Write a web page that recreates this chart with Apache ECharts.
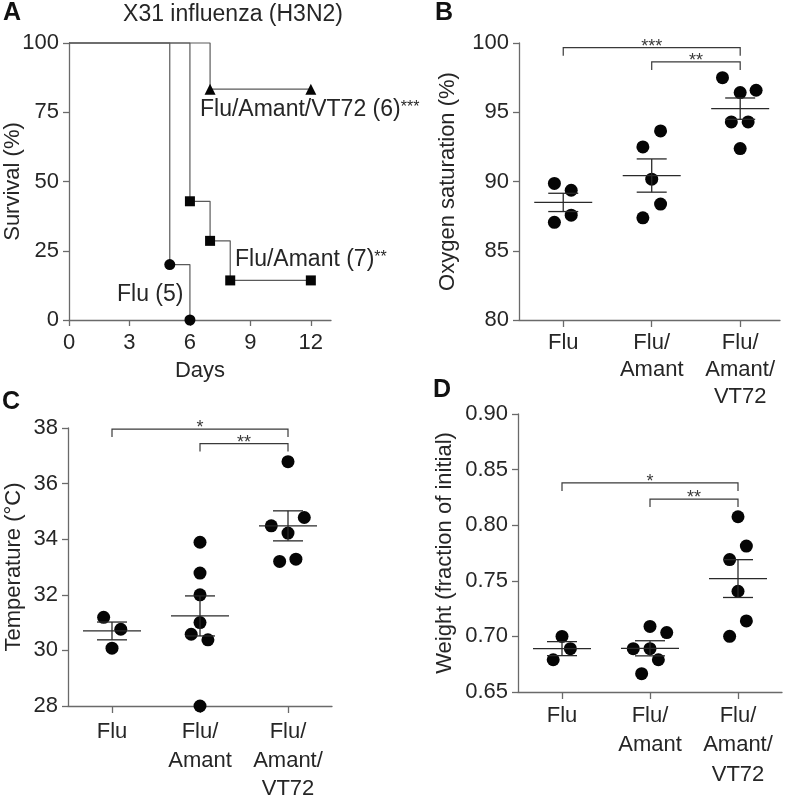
<!DOCTYPE html>
<html><head><meta charset="utf-8">
<script src="https://cdn.jsdelivr.net/npm/echarts@6/dist/echarts.min.js"></script>
<style>html,body{margin:0;padding:0;background:#fff}#c{width:787px;height:796px}</style>
</head><body><div id="c"></div>
<script>
// ---------- Panel A: survival ----------
const survFluDays = [0, 5, 6];
const survFluPct = [100, 20, 0];
const survAmantDays = [0, 6, 7, 8, 12];
const survAmantPct = [100, 42.86, 28.57, 14.29, 14.29];
const survVT72Days = [0, 7, 12];
const survVT72Pct = [100, 83.33, 83.33];
const dayTicks = [0, 3, 6, 9, 12];

// ---------- shared groups ----------
const groupPos = [1, 2, 3];
const groupNames = ['Flu', 'Flu/\nAmant', 'Flu/\nAmant/\nVT72'];

// ---------- Panel B: oxygen saturation ----------
const o2FluX = [0.9, 1.09, 1.09, 0.9];
const o2FluY = [89.86, 89.37, 87.57, 87.05];
const o2AmantX = [1.9, 2.1, 2.0, 2.1, 1.9];
const o2AmantY = [92.5, 93.65, 90.17, 88.37, 87.38];
const o2VT72X = [2.8, 3.0, 3.18, 2.9, 3.09, 3.0];
const o2VT72Y = [97.5, 96.42, 96.59, 94.3, 94.3, 92.38];
const o2Mean = [88.49, 90.43, 95.26];
const o2Sem = [0.66, 1.2, 0.77];
const o2Brackets = [[1, 3, 99.66, '***'], [2, 3, 98.63, '**']];

// ---------- Panel C: temperature ----------
const tFluX = [0.905, 1.1, 1.0];
const tFluY = [31.19, 30.76, 30.08];
const tAmantX = [2, 2, 2, 2, 1.9, 2.09, 2];
const tAmantY = [33.89, 32.78, 32.0, 31.0, 30.58, 30.38, 28.0];
const tVT72X = [3, 2.81, 3.185, 3, 2.905, 3.09];
const tVT72Y = [36.79, 34.48, 34.78, 34.22, 33.2, 33.28];
const tMean = [30.70, 31.24, 34.48];
const tSem = [0.32, 0.72, 0.54];
const tBrackets = [[1, 3, 37.96, '*'], [2, 3, 37.44, '**']];

// ---------- Panel D: weight ----------
const wFluX = [1, 1.095, 0.9];
const wFluY = [0.700, 0.689, 0.679];
const wAmantX = [2, 2.19, 1.81, 2, 2.095, 1.905];
const wAmantY = [0.709, 0.7034, 0.689, 0.689, 0.679, 0.6665];
const wVT72X = [3, 3.095, 2.905, 3, 3.095, 2.905];
const wVT72Y = [0.8076, 0.7812, 0.7691, 0.7406, 0.7139, 0.7001];
const wMean = [0.689, 0.6893, 0.752];
const wSem = [0.0063, 0.0068, 0.017];
const wBrackets = [[1, 3, 0.838, '*'], [2, 3, 0.8235, '**']];

// ---------- styling ----------
const FONT = 'Liberation Sans, Arial, Helvetica, sans-serif';
const TXT = '#262626';
const AX = '#6a6a6a';
const FS = 22;

const chart = echarts.init(document.getElementById('c'), null, {renderer: 'canvas'});

function zip(xs, ys) { return xs.map((x, i) => [x, ys[i]]); }

function axisCommon() {
  return {
    axisLine: {show: true, lineStyle: {color: AX, width: 1.3}},
    axisTick: {show: true, length: 6, lineStyle: {color: AX, width: 1.3}},
    splitLine: {show: false},
    axisLabel: {color: TXT, fontSize: FS, fontFamily: FONT},
    nameTextStyle: {color: TXT, fontSize: FS, fontFamily: FONT},
    nameMoveOverlap: false
  };
}

function groupXAxis(gi, max, margin, lh) {
  const a = axisCommon();
  return Object.assign(a, {
    type: 'value', gridIndex: gi, min: 0.5, max: max,
    axisTick: Object.assign(a.axisTick, {customValues: groupPos, length: 7}),
    axisLabel: Object.assign(a.axisLabel, {
      customValues: groupPos, margin: margin, lineHeight: lh,
      formatter: v => groupNames[Math.round(v) - 1] || ''
    })
  });
}

function yAxisDef(gi, min, max, interval, name, gap, fmt) {
  const a = axisCommon();
  return Object.assign(a, {
    type: 'value', gridIndex: gi, min: min, max: max, interval: interval,
    name: name, nameLocation: 'middle', nameGap: gap, nameRotate: 90,
    axisLabel: Object.assign(a.axisLabel, {margin: 10, formatter: fmt || (v => String(v))})
  });
}

function scatterSeries(gi, xs, ys) {
  return {
    type: 'scatter', xAxisIndex: gi, yAxisIndex: gi, data: zip(xs, ys),
    symbol: 'circle', symbolSize: 13, itemStyle: {color: '#050505', opacity: 1}, z: 3, silent: true
  };
}

function meanSemSeries(gi, means, sems) {
  return {
    type: 'custom', xAxisIndex: gi, yAxisIndex: gi, z: 4, silent: true, clip: false,
    data: groupPos.map((g, i) => [g, means[i], sems[i]]),
    encode: {x: 0, y: 1},
    renderItem: function (params, api) {
      const x = api.value(0), m = api.value(1), s = api.value(2);
      const pm = api.coord([x, m]);
      const ph = api.coord([x, m + s]);
      const pl = api.coord([x, m - s]);
      const st = {stroke: '#2a2a2a', lineWidth: 1.3};
      return {type: 'group', children: [
        {type: 'line', shape: {x1: pm[0] - 29, y1: pm[1], x2: pm[0] + 29, y2: pm[1]}, style: st},
        {type: 'line', shape: {x1: ph[0], y1: ph[1], x2: pl[0], y2: pl[1]}, style: st},
        {type: 'line', shape: {x1: ph[0] - 15, y1: ph[1], x2: ph[0] + 15, y2: ph[1]}, style: st},
        {type: 'line', shape: {x1: pl[0] - 15, y1: pl[1], x2: pl[0] + 15, y2: pl[1]}, style: st}
      ]};
    }
  };
}

function bracketSeries(gi, brackets) {
  return {
    type: 'custom', xAxisIndex: gi, yAxisIndex: gi, z: 4, silent: true, clip: false,
    data: brackets.map(b => [b[0], b[1], b[2]]),
    encode: {x: [0, 1], y: 2},
    renderItem: function (params, api) {
      const b = brackets[params.dataIndex];
      const p1 = api.coord([b[0], b[2]]);
      const p2 = api.coord([b[1], b[2]]);
      const drop = 8;
      return {type: 'group', children: [
        {type: 'polyline', shape: {points: [[p1[0], p1[1] + drop], p1, p2, [p2[0], p2[1] + drop]]},
          style: {stroke: '#3a3a3a', lineWidth: 1.2, fill: null}},
        {type: 'text', x: (p1[0] + p2[0]) / 2, y: p1[1] + 8,
          style: {text: b[3], fill: '#3a3a3a', font: '18px ' + FONT, align: 'center', verticalAlign: 'bottom'}}
      ]};
    }
  };
}

function survSeries(xs, ys, sym, size) {
  return {
    type: 'line', xAxisIndex: 0, yAxisIndex: 0, step: 'end', clip: false, silent: true,
    data: xs.map((x, i) => ({value: [x, ys[i]], symbol: i === 0 ? 'none' : sym})),
    symbolSize: size, showSymbol: true, showAllSymbol: true,
    itemStyle: {color: '#050505', opacity: 1},
    lineStyle: {color: '#5a5a5a', width: 1.2},
    z: 3
  };
}

function annot(x, y, main, stars) {
  return {type: 'text', x: x, y: y, style: {
    text: main + (stars ? '{s|' + stars + '}' : ''),
    font: '23px ' + FONT, fill: TXT, align: 'left', verticalAlign: 'middle',
    rich: {s: {font: '16px ' + FONT, fill: TXT, verticalAlign: 'top', padding: [1, 0, 0, 0]}}
  }};
}

const xA = axisCommon();
Object.assign(xA, {
  type: 'value', gridIndex: 0, min: 0, max: 13,
  name: 'Days', nameLocation: 'middle', nameGap: 40
});
xA.axisTick.customValues = dayTicks;
xA.axisLabel.customValues = dayTicks;
xA.axisLabel.margin = 9;
xA.axisLabel.lineHeight = 28;

const option = {
  animation: false,
  backgroundColor: '#ffffff',
  grid: [
    {left: 69, top: 43, width: 262, height: 277, containLabel: false, outerBoundsMode: 'none'},
    {left: 519, top: 43, width: 261, height: 277, containLabel: false, outerBoundsMode: 'none'},
    {left: 68, top: 428, width: 264, height: 278, containLabel: false, outerBoundsMode: 'none'},
    {left: 518, top: 414, width: 264, height: 278, containLabel: false, outerBoundsMode: 'none'}
  ],
  xAxis: [
    xA,
    groupXAxis(1, 3.45, 9, 27),
    groupXAxis(2, 3.5, 12, 28.5),
    groupXAxis(3, 3.5, 9, 29.5)
  ],
  yAxis: [
    yAxisDef(0, 0, 100, 25, 'Survival (%)', 45),
    yAxisDef(1, 80, 100, 5, 'Oxygen saturation (%)', 60),
    yAxisDef(2, 28, 38, 2, 'Temperature (°C)', 43),
    yAxisDef(3, 0.65, 0.90, 0.05, 'Weight (fraction of initial)', 62, v => v.toFixed(2))
  ],
  series: [
    survSeries(survFluDays, survFluPct, 'circle', 11),
    survSeries(survAmantDays, survAmantPct, 'rect', 10),
    survSeries(survVT72Days, survVT72Pct, 'triangle', 11),
    scatterSeries(1, o2FluX, o2FluY),
    scatterSeries(1, o2AmantX, o2AmantY),
    scatterSeries(1, o2VT72X, o2VT72Y),
    meanSemSeries(1, o2Mean, o2Sem),
    bracketSeries(1, o2Brackets),
    scatterSeries(2, tFluX, tFluY),
    scatterSeries(2, tAmantX, tAmantY),
    scatterSeries(2, tVT72X, tVT72Y),
    meanSemSeries(2, tMean, tSem),
    bracketSeries(2, tBrackets),
    scatterSeries(3, wFluX, wFluY),
    scatterSeries(3, wAmantX, wAmantY),
    scatterSeries(3, wVT72X, wVT72Y),
    meanSemSeries(3, wMean, wSem),
    bracketSeries(3, wBrackets)
  ],
  graphic: [
    {type: 'text', x: 3, y: 13, style: {text: 'A', font: 'bold 25px ' + FONT, fill: '#111', align: 'left', verticalAlign: 'middle'}},
    {type: 'text', x: 435, y: 13, style: {text: 'B', font: 'bold 25px ' + FONT, fill: '#111', align: 'left', verticalAlign: 'middle'}},
    {type: 'text', x: 2, y: 402, style: {text: 'C', font: 'bold 25px ' + FONT, fill: '#111', align: 'left', verticalAlign: 'middle'}},
    {type: 'text', x: 433, y: 390, style: {text: 'D', font: 'bold 25px ' + FONT, fill: '#111', align: 'left', verticalAlign: 'middle'}},
    {type: 'text', x: 233, y: 15, style: {text: 'X31 influenza (H3N2)', font: '23px ' + FONT, fill: TXT, align: 'center', verticalAlign: 'middle'}},
    annot(200, 110, 'Flu/Amant/VT72 (6)', '***'),
    annot(235, 260, 'Flu/Amant (7)', '**'),
    annot(117, 295, 'Flu (5)', '')
  ]
};
chart.setOption(option);
</script>
</body></html>
